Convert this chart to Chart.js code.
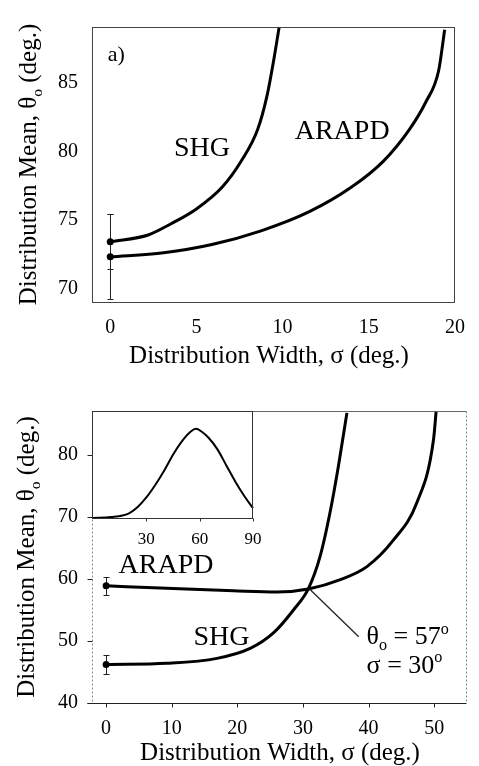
<!DOCTYPE html>
<html>
<head>
<meta charset="utf-8">
<title>Distribution mean vs width</title>
<script src="https://cdn.jsdelivr.net/npm/chart.js@4.4.1/dist/chart.umd.min.js"></script>
<style>
    body { margin: 0; background: #fff; }
    .figure { position: relative; width: 479px; height: 766px; overflow: hidden; }
    .figure canvas { position: absolute; }
    #panelA { left: 0; top: 0; }
    #panelB { left: 0; top: 383px; }
    #inset { left: 83px; top: 405px; }
</style>
</head>
<body>
<div class="figure">
    <canvas id="panelA" width="479" height="383"></canvas>
    <canvas id="panelB" width="479" height="383"></canvas>
    <canvas id="inset" width="190" height="150"></canvas>
</div>
<script>
const serif = '"Liberation Serif", "Times New Roman", serif';
const ink = '#000';

// panel a)
const sigmaTicksA = [0, 5, 10, 15, 20];
const meanTicksA = [70, 75, 80, 85];
const shgSigmaA = [0, 2.2, 3.5, 5.0, 6.5, 7.6, 8.55, 9.1, 9.5, 9.8];
const shgMeanA = [73.4, 73.9, 74.7, 75.8, 77.4, 79.3, 81.6, 84.1, 86.8, 89.1];
const arapdSigmaA = [0, 3.1, 5.9, 8.75, 11.55, 14.0, 15.85, 17.35, 18.3, 19.05, 19.4];
const arapdMeanA = [72.3, 72.6, 73.2, 74.2, 75.6, 77.4, 79.3, 81.6, 83.6, 85.9, 88.9];
const startErrorA = [2.0, 3.1]; // SHG, ARAPD at sigma = 0

// panel b)
const sigmaTicksB = [0, 10, 20, 30, 40, 50];
const meanTicksB = [40, 50, 60, 70, 80];
const shgSigmaB = [0, 9.25, 16.9, 21.95, 25.5, 28.55, 30.85, 32.6, 34.1, 35.4, 36.7];
const shgMeanB = [46.2, 46.4, 47.2, 48.8, 51.3, 55.0, 58.5, 63.6, 70.6, 78.2, 86.8];
const arapdSigmaB = [0, 9.25, 19.4, 26.0, 30.85, 35.7, 39.75, 43.8, 47.35, 49.9, 50.3];
const arapdMeanB = [58.9, 58.5, 58.1, 57.9, 58.4, 59.9, 62.0, 66.3, 72.3, 82.5, 87.1];
const startErrorB = [1.5, 1.5];
const leaderSigma = [31.0, 38.5];
const leaderMean = [58.4, 50.7];

// inset: the fitted distribution
const insetTicks = [30, 60, 90];
const insetAngle = [0, 10, 20, 25, 30, 35, 40, 45, 50, 55, 58, 61, 65, 70, 75, 80, 85, 90];
const insetWeight = [0, 0.01, 0.05, 0.12, 0.23, 0.37, 0.53, 0.71, 0.86, 0.97, 1.0, 0.97, 0.9, 0.77, 0.59, 0.41, 0.25, 0.11];

const points = (xs, ys) => xs.map((x, i) => ({ x, y: ys[i] }));

const fixedTicks = (values) => (scale) => {
    scale.ticks = values.map((value) => ({ value }));
};

const curve = (label, xs, ys, width = 3) => ({
    label,
    data: points(xs, ys),
    borderColor: ink,
    borderWidth: width,
    cubicInterpolationMode: 'monotone',
    pointRadius: (ctx) => (width === 3 && ctx.dataIndex === 0 ? 3.5 : 0),
    pointBackgroundColor: ink,
    pointBorderWidth: 0,
    clip: 2,
});

const drawRich = (ctx, parts, x, y, size, align = 'left') => {
    const runs = parts.map((part) => {
        const [text, mode] = Array.isArray(part) ? part : [part, null];
        const s = mode ? size * 0.62 : size;
        ctx.font = `${s}px ${serif}`;
        return { text, mode, s, w: ctx.measureText(text).width };
    });
    const total = runs.reduce((sum, r) => sum + r.w, 0);
    let cx = align === 'center' ? x - total / 2 : x;

    ctx.textAlign = 'left';
    runs.forEach((r) => {
        ctx.font = `${r.s}px ${serif}`;
        const dy = r.mode === 'sub' ? size * 0.22 : r.mode === 'sup' ? -size * 0.4 : 0;
        ctx.fillText(r.text, cx, y + dy);
        cx += r.w;
    });
};

const line = (ctx, x1, y1, x2, y2) => {
    ctx.beginPath();
    ctx.moveTo(x1, y1);
    ctx.lineTo(x2, y2);
    ctx.stroke();
};

const drawErrorBars = (chart, errors) => {
    const { ctx, scales: { x, y } } = chart;
    ctx.save();
    ctx.strokeStyle = '#222';
    ctx.lineWidth = 1;
    chart.data.datasets.forEach((ds, i) => {
        const first = ds.data[0];
        const px = Math.round(x.getPixelForValue(first.x)) + 0.5;
        const top = Math.round(y.getPixelForValue(first.y + errors[i])) + 0.5;
        const bottom = Math.round(y.getPixelForValue(first.y - errors[i])) + 0.5;
        line(ctx, px, top, px, bottom);
        line(ctx, px - 3, top, px + 3, top);
        line(ctx, px - 3, bottom, px + 3, bottom);
    });
    ctx.restore();
};

const drawLabel = (chart, parts, sx, sy, size) => {
    const { ctx, scales: { x, y } } = chart;
    ctx.fillStyle = ink;
    ctx.textBaseline = 'alphabetic';
    drawRich(ctx, parts, x.getPixelForValue(sx), y.getPixelForValue(sy), size);
};

const drawAxisTitles = (chart, xBaseline, xShift, yBaseline) => {
    const { ctx, chartArea: area } = chart;
    ctx.save();
    ctx.fillStyle = ink;
    ctx.textBaseline = 'alphabetic';
    drawRich(ctx, ['Distribution Width, σ (deg.)'], (area.left + area.right) / 2 + xShift, area.bottom + xBaseline, 25, 'center');
    ctx.translate(yBaseline, (area.top + area.bottom) / 2);
    ctx.rotate(-Math.PI / 2);
    drawRich(ctx, ['Distribution Mean, θ', ['o', 'sub'], ' (deg.)'], 0, 0, 25, 'center');
    ctx.restore();
};

const panelOptions = (xRange, yRange, xTicks, yTicks, xHeight, padding) => ({
    responsive: false,
    devicePixelRatio: 1,
    animation: false,
    layout: { padding },
    plugins: {
        legend: { display: false },
        tooltip: { enabled: false },
    },
    scales: {
        x: {
            type: 'linear',
            min: xRange[0],
            max: xRange[1],
            afterBuildTicks: fixedTicks(xTicks),
            afterFit: (scale) => { scale.height = xHeight; },
            ticks: {
                color: ink,
                padding: 14,
                maxRotation: 0,
                autoSkip: false,
                font: { family: serif, size: 20 },
            },
            grid: { display: false, drawTicks: false },
            border: { display: false },
        },
        y: {
            type: 'linear',
            min: yRange[0],
            max: yRange[1],
            afterBuildTicks: fixedTicks(yTicks),
            afterFit: (scale) => { scale.width = 93; },
            ticks: {
                color: ink,
                padding: 15,
                font: { family: serif, size: 20 },
            },
            grid: { display: false, drawTicks: false },
            border: { display: false },
        },
    },
});

const panelAPlugin = {
    id: 'panelA',
    beforeDatasetsDraw(chart) {
        drawErrorBars(chart, startErrorA);
    },
    afterDraw(chart) {
        const { ctx, chartArea: area } = chart;
        ctx.save();
        ctx.strokeStyle = '#444';
        ctx.lineWidth = 1;
        ctx.strokeRect(Math.round(area.left) - 0.5, Math.round(area.top) + 0.5, Math.round(area.width), Math.round(area.height));

        drawLabel(chart, ['a)'], -0.15, 86.6, 22);
        drawLabel(chart, ['SHG'], 3.7, 79.7, 28);
        drawLabel(chart, ['ARAPD'], 10.7, 80.9, 28);
        ctx.restore();

        drawAxisTitles(chart, 61, -5, 36);
    },
};

const panelBPlugin = {
    id: 'panelB',
    beforeDatasetsDraw(chart) {
        drawErrorBars(chart, startErrorB);
    },
    afterDraw(chart) {
        const { ctx, chartArea: area, scales: { x, y } } = chart;
        const left = Math.round(area.left) - 0.5;
        const right = Math.round(area.right) - 0.5;
        const top = Math.round(area.top) + 0.5;
        const bottom = Math.round(area.bottom) + 0.5;

        ctx.save();
        ctx.lineWidth = 1;
        ctx.strokeStyle = '#666';
        line(ctx, left, top, right, top);
        ctx.setLineDash([2, 2]);
        ctx.strokeStyle = '#888';
        line(ctx, left, top, left, bottom);
        line(ctx, right, top, right, bottom);
        ctx.setLineDash([]);

        ctx.strokeStyle = '#222';
        line(ctx, left - 5, bottom, right, bottom);
        sigmaTicksB.forEach((v) => {
            const px = Math.round(x.getPixelForValue(v)) + 0.5;
            line(ctx, px, bottom, px, bottom + 4);
        });
        meanTicksB.forEach((v) => {
            const py = Math.round(y.getPixelForValue(v)) + 0.5;
            line(ctx, left - 5, py, left, py);
        });

        // leader from the crossing point to its label
        ctx.lineWidth = 1.3;
        line(ctx, x.getPixelForValue(leaderSigma[0]), y.getPixelForValue(leaderMean[0]),
            x.getPixelForValue(leaderSigma[1]), y.getPixelForValue(leaderMean[1]));

        drawLabel(chart, ['ARAPD'], 1.9, 61.0, 28);
        drawLabel(chart, ['SHG'], 13.3, 49.4, 28);
        drawLabel(chart, ['θ', ['o', 'sub'], ' = 57', ['o', 'sup']], 39.7, 49.5, 26);
        drawLabel(chart, ['σ = 30', ['o', 'sup']], 39.7, 44.9, 26);
        ctx.restore();

        drawAxisTitles(chart, 57, 0, 34);
    },
};

const insetPlugin = {
    id: 'insetFrame',
    beforeDraw(chart) {
        const { ctx, chartArea: area } = chart;
        ctx.save();
        ctx.fillStyle = '#fff';
        ctx.fillRect(area.left, area.top, area.width, area.height);
        ctx.restore();
    },
    afterDraw(chart) {
        const { ctx, chartArea: area, scales: { x } } = chart;
        const bottom = Math.round(area.bottom) + 0.5;
        ctx.save();
        ctx.strokeStyle = '#333';
        ctx.lineWidth = 1;
        ctx.strokeRect(Math.round(area.left) - 0.5, Math.round(area.top) + 0.5, Math.round(area.width), Math.round(area.height));
        insetTicks.forEach((v) => {
            const px = Math.round(x.getPixelForValue(v)) + 0.5;
            line(ctx, px, bottom, px, bottom + 3);
        });
        ctx.restore();
    },
};

new Chart(document.getElementById('panelA'), {
    type: 'line',
    data: {
        datasets: [
            curve('SHG', shgSigmaA, shgMeanA),
            curve('ARAPD', arapdSigmaA, arapdMeanA),
        ],
    },
    options: panelOptions([-1, 20], [69, 89.1], sigmaTicksA, meanTicksA, 81, { left: 0, top: 10, right: 12, bottom: 0 }),
    plugins: [panelAPlugin],
});

new Chart(document.getElementById('panelB'), {
    type: 'line',
    data: {
        datasets: [
            curve('SHG', shgSigmaB, shgMeanB),
            curve('ARAPD', arapdSigmaB, arapdMeanB),
        ],
    },
    options: panelOptions([-2, 55], [40, 87.1], sigmaTicksB, meanTicksB, 63, { left: 0, top: 28, right: 12, bottom: 0 }),
    plugins: [panelBPlugin],
});

new Chart(document.getElementById('inset'), {
    type: 'line',
    data: {
        datasets: [curve('distribution', insetAngle, insetWeight, 2)],
    },
    options: {
        responsive: false,
        devicePixelRatio: 1,
        animation: false,
        layout: { padding: { left: 10, top: 6, right: 20, bottom: 0 } },
        plugins: {
            legend: { display: false },
            tooltip: { enabled: false },
        },
        scales: {
            x: {
                type: 'linear',
                min: 0,
                max: 90,
                afterBuildTicks: fixedTicks(insetTicks),
                afterFit: (scale) => { scale.height = 37; },
                ticks: {
                    color: ink,
                    padding: 11,
                    maxRotation: 0,
                    autoSkip: false,
                    font: { family: serif, size: 17 },
                },
                grid: { display: false, drawTicks: false },
                border: { display: false },
            },
            y: { display: false, min: 0, max: 1.2 },
        },
    },
    plugins: [insetPlugin],
});
</script>
</body>
</html>
